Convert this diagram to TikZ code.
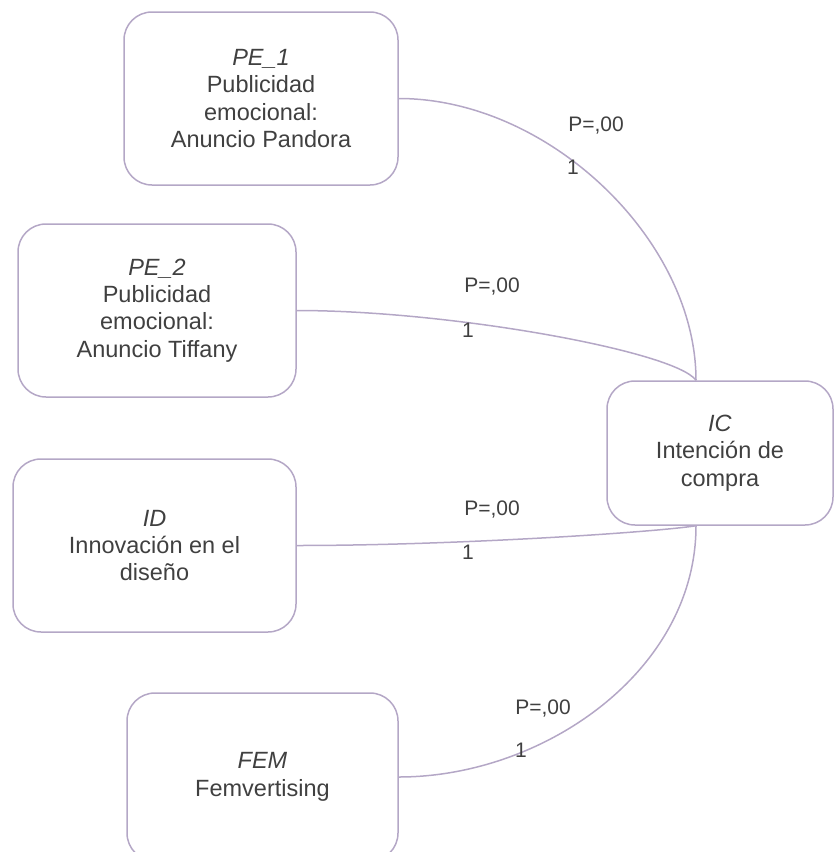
\documentclass[tikz,border=0pt]{standalone}
\usepackage{fontspec}
\setmainfont{Liberation Sans}
\begin{document}
\begin{tikzpicture}[x=1pt,y=-1pt]
\definecolor{boxline}{HTML}{B4A7C6}
\definecolor{txt}{HTML}{404040}
\tikzset{
 box/.style={draw=boxline, line width=1.5pt, rounded corners=28pt, align=center, text=txt, font=\fontsize{23.5}{27.4}\selectfont, inner sep=0pt},
 link/.style={draw=boxline, line width=1.5pt},
 lab/.style={text=txt, font=\fontsize{21}{25}\selectfont, inner sep=0pt},
}
\useasboundingbox (0,0) rectangle (834,852);
\node[box, minimum width=274pt, minimum height=173pt] (pe1) at (261,98.5) {\textit{PE\_1}\\Publicidad\\emocional:\\Anuncio Pandora};
\node[box, minimum width=278pt, minimum height=173pt] (pe2) at (157,310.5) {\textit{PE\_2}\\Publicidad\\emocional:\\Anuncio Tiffany};
\node[box, minimum width=283pt, minimum height=173pt] (id) at (154.5,545.5) {\textit{ID}\\Innovación en el\\diseño};
\node[box, minimum width=271pt, minimum height=168pt] (fem) at (262.5,777) {\textit{FEM}\\Femvertising};
\node[box, minimum width=226pt, minimum height=144pt] (ic) at (720,453) {\textit{IC}\\Intención de\\compra};
\coordinate (ict) at ([xshift=-24pt]ic.north);
\coordinate (icb) at ([xshift=-24pt]ic.south);
\draw[link] (pe1.east) .. controls +(150,0) and +(0,-140) .. (ict);
\draw[link] (pe2.east) .. controls +(154,0) and +(-21,-29) .. (ict);
\draw[link] (id.east) .. controls +(154,0) and +(-46,7) .. (icb);
\draw[link] (fem.east) .. controls +(145,0) and +(0,145) .. (icb);
\node[lab] (p1) at (596,126) {P=,00};
\node[lab] (n1) at (573,167) {1};
\node[lab] (p2) at (492,287) {P=,00};
\node[lab] (n2) at (468,330) {1};
\node[lab] (p3) at (492,510) {P=,00};
\node[lab] (n3) at (468,552) {1};
\node[lab] (p4) at (543,709) {P=,00};
\node[lab] (n4) at (521,750) {1};
\end{tikzpicture}
\end{document}
